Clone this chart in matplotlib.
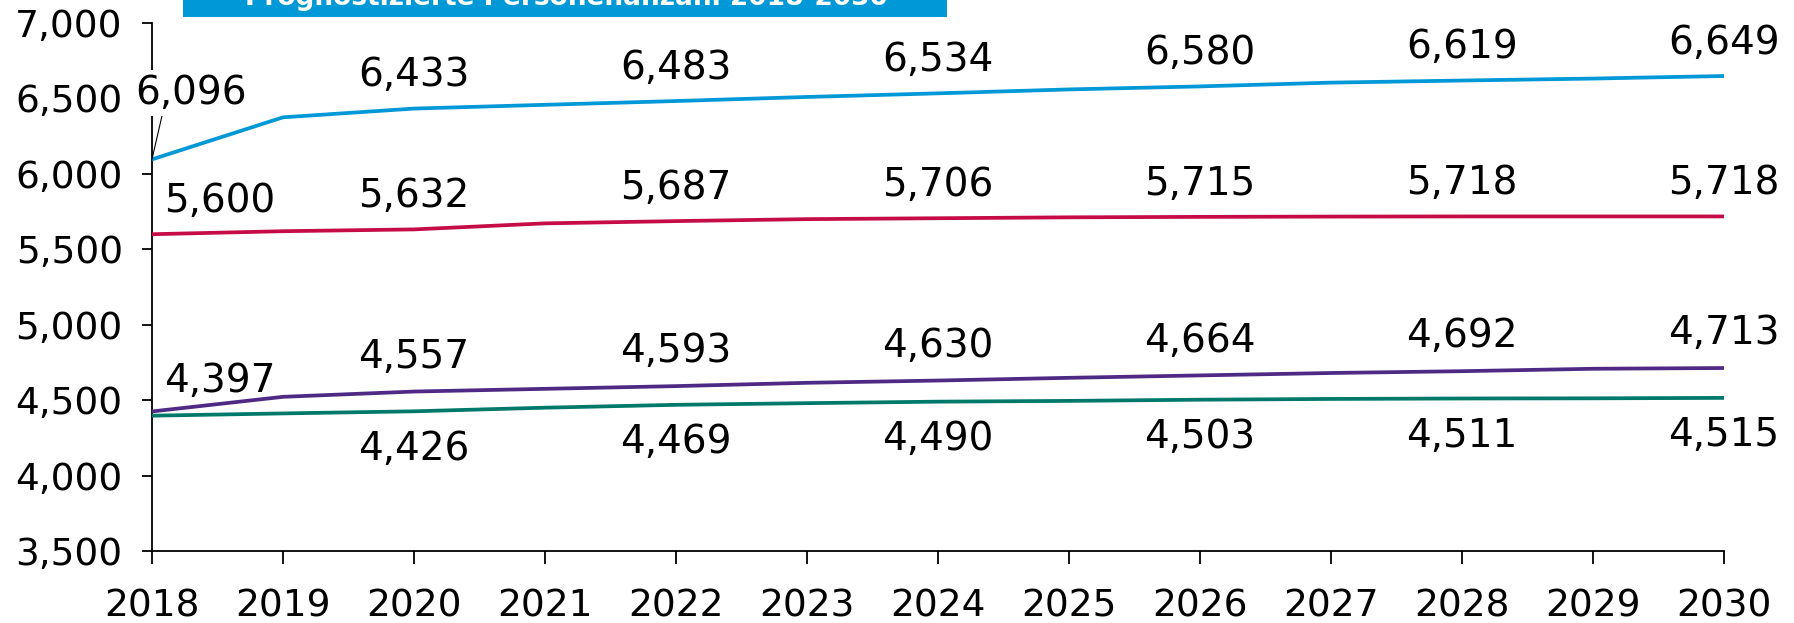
import matplotlib.pyplot as plt
import matplotlib.patches as patches
from matplotlib.ticker import FuncFormatter

# data
years = list(range(2018, 2031))
blue_vals = [6096, 6375, 6433, 6458, 6483, 6510, 6534, 6560, 6580, 6605, 6619, 6632, 6649]
red_vals = [5600, 5620, 5632, 5672, 5687, 5700, 5706, 5712, 5715, 5717, 5718, 5718, 5718]
purple_vals = [4425, 4522, 4557, 4575, 4593, 4615, 4630, 4648, 4664, 4680, 4692, 4708, 4713]
green_vals = [4397, 4412, 4426, 4450, 4469, 4480, 4490, 4495, 4503, 4508, 4511, 4512, 4515]

# which years carry a value label
label_years = [2020, 2022, 2024, 2026, 2028, 2030]

title = 'Prognostizierte Personenanzahl 2018-2030'

colors = {
    'blue': '#0098D6',
    'red': '#C60C46',
    'purple': '#4F2A85',
    'green': '#00796B',
}

plt.rcParams['font.family'] = ['DejaVu Sans']
LBL = 28

fig = plt.figure(figsize=(17.94, 6.23), dpi=100)
ax = fig.add_axes([0.0847, 0.1156, 0.961 - 0.0847, 0.963 - 0.1156])

series = [
    (blue_vals, colors['blue'], 24),
    (red_vals, colors['red'], 24),
    (purple_vals, colors['purple'], 25),
    (green_vals, colors['green'], -27),
]

for vals, col, dy in series:
    ax.plot(years, vals, color=col, linewidth=2.7, solid_capstyle='butt', clip_on=False, zorder=4)
    for yr in label_years:
        i = years.index(yr)
        ax.annotate(f'{vals[i]:,}', (yr, vals[i]), xytext=(0, dy), textcoords='offset points',
                    ha='center', va='center', fontsize=LBL, color='black')

# labels at 2018 are shifted right to stay inside the plot
ax.annotate(f'{blue_vals[0]:,}', (years[0], blue_vals[0]), xytext=(28, 48), textcoords='offset points',
            ha='center', va='center', fontsize=LBL, color='black', zorder=5,
            bbox=dict(boxstyle='square,pad=0.1', fc='white', ec='none'),
            arrowprops=dict(arrowstyle='-', color='black', lw=0.8, shrinkA=0, shrinkB=0,
                            relpos=(0.25, 0.0)))
ax.annotate(f'{red_vals[0]:,}', (years[0], red_vals[0]), xytext=(49, 24), textcoords='offset points',
            ha='center', va='center', fontsize=LBL, color='black')
ax.annotate(f'{green_vals[0]:,}', (years[0], purple_vals[0]), xytext=(49, 22), textcoords='offset points',
            ha='center', va='center', fontsize=LBL, color='black')

ax.set_xlim(2018, 2030)
ax.set_ylim(3500, 7000)
ax.set_xticks(years)
ax.set_yticks(range(3500, 7001, 500))
ax.yaxis.set_major_formatter(FuncFormatter(lambda v, p: f'{int(v):,}'))

for side in ['top', 'right']:
    ax.spines[side].set_visible(False)
for side in ['left', 'bottom']:
    ax.spines[side].set_linewidth(1.3)
ax.tick_params(axis='x', length=9, width=1.3, pad=18, labelsize=27)
ax.tick_params(axis='y', length=7, width=1.3, pad=14, labelsize=27)

# title box cut off at the top edge
fig.patches.append(patches.Rectangle((183 / 1794, 1 - 17 / 623), (947 - 183) / 1794, 17 / 623,
                                     transform=fig.transFigure, facecolor='#0098D6', edgecolor='none'))
fig.text(566 / 1794, 1 - 5 / 623, title, ha='center', va='baseline', color='white',
         fontsize=19, fontweight='bold')

fig.savefig('out.png', dpi=100)
